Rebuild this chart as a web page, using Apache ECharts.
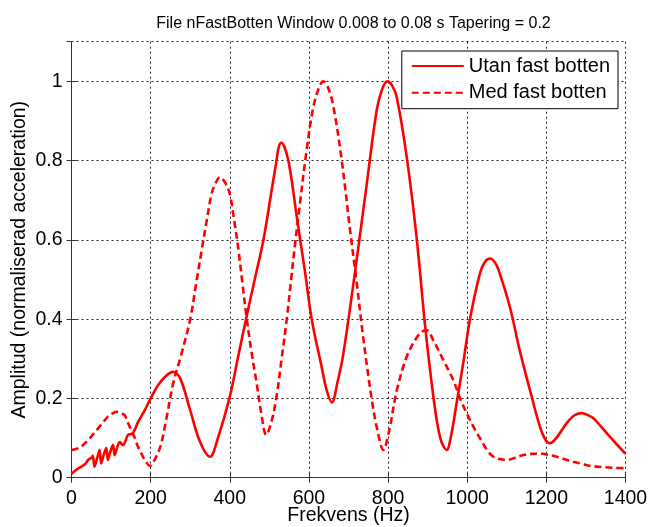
<!DOCTYPE html>
<html>
<head>
<meta charset="utf-8">
<script src="https://cdn.jsdelivr.net/npm/echarts@6/dist/echarts.min.js"></script>
<style>html,body{margin:0;padding:0;background:#fff}#c{width:649px;height:527px}</style>
</head>
<body>
<div id="c"></div>
<script>
const titleText = 'File nFastBotten Window 0.008 to 0.08 s Tapering = 0.2';
const xName = 'Frekvens (Hz)';
const yName = 'Amplitud (normaliserad acceleration)';
const seriesNames = ['Utan fast botten', 'Med fast botten'];

const utanFreq = [0,12,25,35,42,50,54,58,65,71,75,82,88,92,98,105,109,115,122,130,143,155,168,185,200,220,240,257,275,300,325,350,370,399,420,441,463,485,505,518,524,530,538,548,558,569,590,607,632,645,658,672,687,717,746,771,785,798,810,822,847,872,893,910,923,935,948,960,973,990,1007,1032,1045,1058,1070,1079,1108,1133,1163,1184,1198,1209,1225,1251,1270,1289,1305,1319,1340,1361,1380,1400];
const utanAmp = [0.01,0.02,0.028,0.035,0.045,0.05,0.055,0.028,0.05,0.07,0.036,0.06,0.075,0.045,0.065,0.083,0.057,0.075,0.09,0.082,0.108,0.112,0.14,0.17,0.2,0.235,0.258,0.267,0.25,0.17,0.09,0.053,0.1,0.2,0.3,0.4,0.5,0.6,0.72,0.8,0.835,0.845,0.835,0.8,0.74,0.66,0.52,0.40,0.28,0.22,0.19,0.24,0.313,0.523,0.74,0.926,0.98,1.0,0.99,0.96,0.81,0.607,0.389,0.24,0.145,0.09,0.07,0.11,0.187,0.29,0.4,0.515,0.545,0.553,0.543,0.525,0.43,0.32,0.204,0.128,0.095,0.087,0.1,0.137,0.157,0.163,0.158,0.15,0.127,0.103,0.082,0.06];

const medFreq = [0,16,30,42,55,67,80,92,105,113,125,134,142,151,160,168,177,185,198,210,225,240,257,280,300,315,329,342,354,365,375,388,400,411,422,432,443,456,468,480,492,505,518,531,544,555,565,577,594,610,624,636,648,662,683,704,721,737,759,773,788,803,822,847,870,885,898,915,940,965,982,999,1015,1032,1050,1066,1082,1100,1120,1142,1163,1184,1205,1226,1248,1268,1290,1310,1340,1370,1400];
const medAmp = [0.07,0.074,0.083,0.095,0.11,0.124,0.14,0.154,0.163,0.166,0.162,0.158,0.14,0.12,0.1,0.078,0.06,0.045,0.03,0.045,0.08,0.15,0.238,0.32,0.4,0.49,0.574,0.65,0.716,0.745,0.758,0.745,0.716,0.65,0.574,0.49,0.40,0.31,0.238,0.16,0.108,0.14,0.204,0.3,0.40,0.5,0.59,0.69,0.825,0.93,0.98,1.0,0.985,0.935,0.80,0.624,0.49,0.355,0.196,0.12,0.07,0.12,0.22,0.305,0.35,0.368,0.372,0.345,0.296,0.246,0.2,0.162,0.13,0.1,0.07,0.053,0.047,0.045,0.05,0.057,0.06,0.061,0.058,0.053,0.046,0.04,0.035,0.03,0.027,0.025,0.024];

const xTicks = [0,200,400,600,800,1000,1200,1400];
const yTicks = [0,0.2,0.4,0.6,0.8,1];

function pairs(xs, ys){ return xs.map((x,i)=>[x, ys[i]]); }

const FONT = '"Liberation Sans", Arial, sans-serif';
const gridLine = {show:true, lineStyle:{color:'#222', width:1, type:[2,3]}};
const axisCol = '#333';

const chart = echarts.init(document.getElementById('c'), null, {renderer:'canvas'});
chart.setOption({
  animation:false,
  backgroundColor:'#fff',
  title:{text:titleText, left:348.5, textAlign:'center', top:11,
    textStyle:{fontFamily:FONT, fontSize:16, fontWeight:'normal', color:'#000'}},
  legend:{
    data:seriesNames, orient:'vertical', right:31, top:51,
    backgroundColor:'#fff', borderColor:'#000', borderWidth:1,
    padding:[5,8,6,9], itemWidth:52, itemHeight:14, itemGap:6.7,
    itemStyle:{opacity:0},
    textStyle:{fontFamily:FONT, fontSize:20, color:'#000', lineHeight:20}
  },
  grid:{left:71.5, right:23.5, top:41.7, bottom:49.3, containLabel:false, outerBoundsMode:'none'},
  xAxis:[{
    type:'value', min:0, max:1400, interval:200,
    name:xName, nameLocation:'middle', nameGap:28, nameMoveOverlap:false,
    nameTextStyle:{fontFamily:FONT, fontSize:19.5, color:'#000'},
    axisLine:{show:true, lineStyle:{color:axisCol, width:1}},
    axisTick:{show:true, inside:true, length:5, lineStyle:{color:axisCol}},
    axisLabel:{fontFamily:FONT, fontSize:19.5, color:'#000', margin:11,
      formatter:(v)=> xTicks.includes(v) ? String(v) : ''},
    splitLine:gridLine
  },{
    type:'value', min:0, max:1400, interval:200, position:'top',
    axisLine:{show:true, lineStyle:{color:axisCol, width:1}},
    axisTick:{show:true, inside:true, length:5, lineStyle:{color:axisCol}},
    axisLabel:{show:false}, splitLine:{show:false}
  }],
  yAxis:[{
    type:'value', min:0, max:1.1, interval:0.2,
    name:yName, nameLocation:'middle', nameGap:42, nameMoveOverlap:false,
    nameTextStyle:{fontFamily:FONT, fontSize:19.5, color:'#000'},
    axisLine:{show:true, lineStyle:{color:axisCol, width:1}},
    axisTick:{show:true, inside:true, length:5, lineStyle:{color:axisCol}},
    axisLabel:{fontFamily:FONT, fontSize:19.5, color:'#000', margin:9, showMaxLabel:false,
      formatter:(v)=>{ const m = yTicks.find(t=>Math.abs(t-v)<1e-6); return m===undefined ? '' : String(m); }},
    splitLine:gridLine
  },{
    type:'value', min:0, max:1.1, interval:0.2, position:'right',
    axisLine:{show:true, lineStyle:{color:axisCol, width:1}},
    axisTick:{show:true, inside:true, length:5, lineStyle:{color:axisCol}},
    axisLabel:{show:false}, splitLine:{show:false}
  }],
  series:[{
    name:seriesNames[0], type:'line', data:pairs(utanFreq, utanAmp),
    xAxisIndex:0, yAxisIndex:0,
    showSymbol:false, symbol:'none', smooth:0.35,
    lineStyle:{color:'#ff0000', width:2.6, type:'solid'},
    itemStyle:{color:'#ff0000'}
  },{
    name:seriesNames[1], type:'line', data:pairs(medFreq, medAmp),
    xAxisIndex:0, yAxisIndex:0,
    showSymbol:false, symbol:'none', smooth:0.35,
    lineStyle:{color:'#ff0000', width:2.6, type:[7,4]},
    itemStyle:{color:'#ff0000'}
  }]
});
</script>
</body>
</html>
